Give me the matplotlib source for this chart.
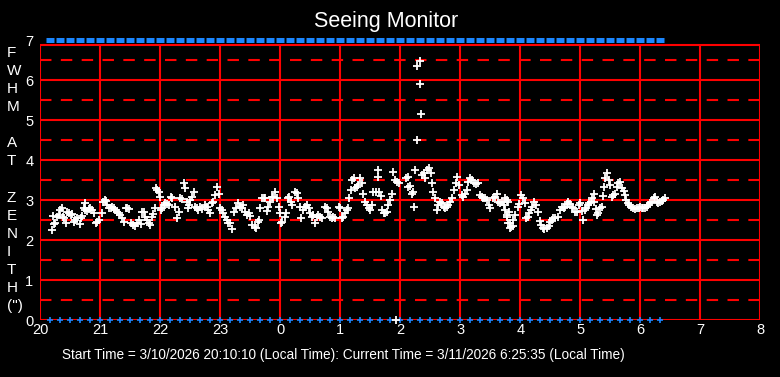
import matplotlib
matplotlib.use('Agg')
import matplotlib.pyplot as plt

# ---------------- data ----------------
hours = [
    20.19, 20.21, 20.23, 20.25, 20.28, 20.31, 20.33, 20.36, 20.38, 20.40,
    20.42, 20.44, 20.47, 20.51, 20.53, 20.56, 20.58, 20.61, 20.66, 20.67,
    20.69, 20.72, 20.74, 20.75, 20.78, 20.81, 20.83, 20.86, 20.89, 20.92,
    20.94, 20.97, 21.02, 21.04, 21.07, 21.09, 21.11, 21.14, 21.17, 21.19,
    21.22, 21.25, 21.28, 21.31, 21.33, 21.36, 21.39, 21.42, 21.44, 21.47,
    21.51, 21.54, 21.58, 21.61, 21.64, 21.67, 21.69, 21.72, 21.75, 21.78,
    21.81, 21.83, 21.86, 21.88, 21.91, 21.92, 21.94, 21.97, 21.99, 22.01,
    22.03, 22.06, 22.08, 22.11, 22.14, 22.17, 22.19, 22.25, 22.28, 22.31,
    22.33, 22.36, 22.39, 22.41, 22.44, 22.46, 22.47, 22.50, 22.53, 22.56,
    22.58, 22.61, 22.63, 22.66, 22.69, 22.74, 22.77, 22.80, 22.83, 22.86,
    22.88, 22.91, 22.94, 22.97, 22.99, 23.02, 23.05, 23.08, 23.11, 23.13,
    23.16, 23.20, 23.23, 23.26, 23.29, 23.33, 23.36, 23.38, 23.41, 23.44,
    23.47, 23.49, 23.53, 23.57, 23.59, 23.62, 23.64, 23.66, 23.69, 23.72,
    23.74, 23.77, 23.80, 23.83, 23.86, 23.88, 23.91, 23.94, 23.97, 23.99,
    24.01, 24.03, 24.07, 24.09, 24.12, 24.15, 24.18, 24.20, 24.24, 24.27,
    24.30, 24.33, 24.35, 24.38, 24.41, 24.44, 24.47, 24.49, 24.52, 24.55,
    24.57, 24.61, 24.63, 24.66, 24.69, 24.75, 24.77, 24.80, 24.83, 24.86,
    24.88, 24.91, 24.97, 24.99, 25.02, 25.05, 25.08, 25.11, 25.13, 25.15,
    25.17, 25.20, 25.23, 25.25, 25.27, 25.30, 25.33, 25.36, 25.38, 25.41,
    25.44, 25.47, 25.49, 25.52, 25.55, 25.60, 25.62, 25.63, 25.65, 25.67,
    25.69, 25.72, 25.75, 25.77, 25.80, 25.83, 25.86, 25.87, 25.91, 25.93,
    25.94, 25.97, 26.09, 26.12, 26.13, 26.16, 26.19, 26.21, 26.22, 26.25,
    26.27, 26.28, 26.32, 26.33, 26.35, 26.36, 26.40, 26.41, 26.45, 26.48,
    26.51, 26.52, 26.55, 26.58, 26.61, 26.63, 26.66, 26.69, 26.72, 26.75,
    26.77, 26.80, 26.83, 26.86, 26.90, 26.93, 26.95, 26.98, 27.02, 27.05,
    27.08, 27.11, 27.13, 27.16, 27.19, 27.23, 27.26, 27.30, 27.33, 27.36,
    27.38, 27.41, 27.44, 27.47, 27.50, 27.55, 27.58, 27.61, 27.63, 27.66,
    27.69, 27.72, 27.75, 27.75, 27.77, 27.77, 27.78, 27.79, 27.80, 27.81,
    27.82, 27.83, 27.85, 27.87, 27.88, 27.91, 27.96, 27.98, 28.01, 28.05,
    28.07, 28.09, 28.12, 28.15, 28.18, 28.20, 28.23, 28.26, 28.30, 28.32,
    28.35, 28.37, 28.40, 28.44, 28.47, 28.50, 28.52, 28.55, 28.57, 28.62,
    28.66, 28.69, 28.72, 28.75, 28.77, 28.80, 28.83, 28.86, 28.88, 28.91,
    28.94, 28.97, 28.99, 29.02, 29.04, 29.07, 29.09, 29.12, 29.15, 29.18,
    29.20, 29.22, 29.23, 29.26, 29.28, 29.30, 29.33, 29.36, 29.37, 29.40,
    29.41, 29.44, 29.47, 29.50, 29.52, 29.55, 29.58, 29.61, 29.63, 29.66,
    29.69, 29.72, 29.75, 29.76, 29.79, 29.81, 29.85, 29.88, 29.91, 29.94,
    29.97, 29.99, 30.02, 30.05, 30.08, 30.11, 30.13, 30.16, 30.19, 30.22,
    30.25, 30.27, 30.30, 30.33, 30.36, 30.38, 30.41,
]
fwhm = [
    2.24, 2.60, 2.40, 2.43, 2.58, 2.63, 2.75, 2.79, 2.58, 2.54,
    2.42, 2.71, 2.67, 2.63, 2.64, 2.46, 2.50, 2.54, 2.39, 2.56,
    2.61, 2.79, 2.92, 2.75, 2.73, 2.78, 2.79, 2.75, 2.67, 2.42,
    2.46, 2.50, 2.67, 2.96, 3.00, 2.98, 2.88, 2.81, 2.79, 2.83,
    2.81, 2.75, 2.71, 2.67, 2.63, 2.54, 2.46, 2.81, 2.81, 2.78,
    2.42, 2.38, 2.36, 2.42, 2.50, 2.39, 2.69, 2.69, 2.58, 2.50,
    2.42, 2.38, 2.58, 2.64, 2.79, 3.29, 3.25, 3.21, 3.08, 2.75,
    2.79, 2.88, 2.92, 2.89, 2.88, 3.08, 3.06, 2.83, 2.54, 2.71,
    3.04, 3.02, 3.42, 3.29, 2.96, 2.79, 2.88, 3.00, 3.08, 3.21,
    2.83, 2.79, 2.75, 2.83, 2.78, 2.88, 2.83, 2.75, 2.67, 2.92,
    2.96, 3.13, 3.32, 3.15, 2.81, 2.75, 2.67, 2.58, 2.50, 2.42,
    2.43, 2.28, 2.71, 2.81, 2.92, 2.83, 2.79, 2.88, 2.71, 2.63,
    2.67, 2.61, 2.38, 2.33, 2.31, 2.46, 2.50, 2.79, 3.04, 3.06,
    3.04, 2.73, 2.83, 2.96, 3.08, 3.08, 3.19, 3.04, 2.83, 2.67,
    2.42, 2.46, 2.58, 2.67, 3.04, 3.08, 2.96, 2.88, 3.21, 3.17,
    3.04, 2.83, 2.54, 2.75, 2.83, 2.88, 2.79, 2.67, 2.58, 2.63,
    2.42, 2.58, 2.63, 2.58, 2.54, 2.83, 2.79, 2.71, 2.58, 2.54,
    2.58, 2.56, 2.83, 2.79, 2.54, 2.58, 2.67, 2.75, 2.79, 3.06,
    3.25, 3.50, 3.54, 3.29, 3.33, 3.38, 3.54, 3.42, 3.14, 2.96,
    2.88, 2.79, 2.75, 2.88, 3.19, 3.21, 3.75, 3.58, 3.21, 3.11,
    2.75, 2.67, 2.67, 2.71, 2.88, 3.00, 3.14, 3.69, 3.50, 0.00,
    3.46, 3.42, 3.54, 3.58, 3.33, 3.35, 3.14, 3.19, 2.83, 3.75,
    4.49, 6.34, 6.47, 5.89, 5.14, 3.63, 3.67, 3.54, 3.75, 3.79,
    3.67, 3.42, 3.19, 3.06, 2.75, 2.88, 2.96, 2.92, 2.83, 2.79,
    2.83, 2.88, 2.96, 3.04, 3.25, 3.42, 3.58, 3.38, 3.13, 3.08,
    3.14, 3.25, 3.46, 3.54, 3.50, 3.42, 3.39, 3.42, 3.13, 3.08,
    3.04, 3.06, 3.00, 2.88, 2.81, 3.04, 3.08, 3.14, 2.96, 2.92,
    2.96, 2.88, 2.75, 3.04, 2.58, 3.00, 2.63, 2.96, 2.42, 2.71,
    2.29, 2.42, 2.33, 2.35, 2.50, 2.63, 2.83, 2.89, 3.13, 3.06,
    2.92, 2.54, 2.58, 2.67, 2.75, 2.83, 2.96, 2.88, 2.69, 2.48,
    2.38, 2.31, 2.28, 2.31, 2.36, 2.46, 2.50, 2.54, 2.56, 2.58,
    2.75, 2.83, 2.79, 2.83, 2.89, 2.94, 2.89, 2.83, 2.79, 2.71,
    2.69, 2.88, 2.92, 2.73, 2.50, 2.75, 2.79, 2.88, 2.92, 2.96,
    3.04, 3.14, 2.96, 2.78, 2.63, 2.67, 2.79, 2.83, 3.11, 3.32,
    3.54, 3.67, 3.50, 3.38, 3.08, 3.13, 3.14, 3.33, 3.42, 3.46,
    3.29, 3.23, 3.13, 3.00, 2.92, 2.88, 2.83, 2.79, 2.78, 2.81,
    2.79, 2.83, 2.79, 2.81, 2.79, 2.83, 2.88, 2.92, 2.96, 3.04,
    3.08, 2.96, 2.92, 2.96, 2.98, 3.00, 3.04,
]

# status markers every 10 minutes (minutes after 20:00)
status_minutes = [
    10, 20, 30, 40, 50, 60, 70, 80, 90, 100, 110, 120, 130, 140, 150, 160,
    170, 180, 190, 200, 210, 220, 230, 240, 250, 260, 270, 280, 290, 300,
    310, 320, 330, 340, 350, 360, 370, 380, 390, 400, 410, 420, 430, 440,
    450, 460, 470, 480, 490, 500, 510, 520, 530, 540, 550, 560, 570, 580,
    590, 600, 610, 620,
]
status_top = 7
status_bottom = 0

x_ticks = [20, 21, 22, 23, 24, 25, 26, 27, 28, 29, 30, 31, 32]
x_tick_labels = ['20', '21', '22', '23', '0', '1', '2', '3', '4', '5', '6', '7', '8']
y_ticks = [0, 1, 2, 3, 4, 5, 6, 7]
y_half = [0.5, 1.5, 2.5, 3.5, 4.5, 5.5, 6.5]
frame_top = 6.87

title = 'Seeing Monitor'
ylabel_chars = ['F', 'W', 'H', 'M', '', 'A', 'T', '', 'Z', 'E', 'N', 'I', 'T', 'H', '(")']
footer = 'Start Time = 3/10/2026 20:10:10 (Local Time): Current Time = 3/11/2026 6:25:35 (Local Time)'

# ---------------- drawing ----------------
plt.rcParams['font.family'] = ['Liberation Sans', 'DejaVu Sans']

W, H = 780, 377
fig = plt.figure(figsize=(W / 100, H / 100), dpi=100, facecolor='black')
ax = fig.add_axes([40.3 / W, (H - 320) / H, 720 / W, 280 / H])
ax.set_facecolor('black')
for s in ax.spines.values():
    s.set_visible(False)
ax.set_xlim(x_ticks[0], x_ticks[-1])
ax.set_ylim(0, 7)

red = '#ff0000'
lw = 1.5
for y in y_half:
    ax.plot([x_ticks[0], x_ticks[-1]], [y, y], color=red, lw=lw,
            dashes=(5.5, 4.5), solid_capstyle='butt', zorder=1)
for y in y_ticks[:-1]:
    ax.hlines(y, x_ticks[0], x_ticks[-1], color=red, lw=lw, zorder=1)
ax.hlines(frame_top, x_ticks[0], x_ticks[-1], color=red, lw=lw, zorder=1)
ax.vlines(x_ticks, 0, frame_top, color=red, lw=lw, zorder=1)

status_hours = [20 + m / 60 for m in status_minutes]
blue = '#1a86ff'
ax.plot(status_hours, [status_top] * len(status_hours), ls='none', marker='_',
        ms=6.2, mew=3.6, color=blue, clip_on=False, zorder=3)
ax.plot(status_hours, [status_bottom] * len(status_hours), ls='none', marker='+',
        ms=4.5, mew=1.2, color=blue, clip_on=False, zorder=3)

ax.plot(hours, fwhm, ls='none', marker='+', ms=5.2, mew=1.3, color='white',
        clip_on=False, zorder=4)

ax.set_xticks(x_ticks)
ax.set_xticklabels(x_tick_labels)
ax.set_yticks(y_ticks)
ax.set_yticklabels([str(v) for v in y_ticks])
ax.tick_params(axis='both', length=0, labelcolor='white', labelsize=10.5)
ax.tick_params(axis='x', pad=2)
ax.tick_params(axis='y', pad=5)

fig.text(386 / W, 1 - 21 / H, title, ha='center', va='center', color='white', fontsize=15.5)

for i, ch in enumerate(ylabel_chars):
    if ch:
        fig.text(7 / W, 1 - (53 + i * 18.07) / H, ch, ha='left', va='center',
                 color='white', fontsize=11)

fig.text(343 / W, 1 - 355 / H, footer, ha='center', va='center', color='white',
         fontsize=9.8, family=['Liberation Sans Narrow', 'Liberation Sans', 'DejaVu Sans'])

fig.savefig('out.png', dpi=100, facecolor='black')
